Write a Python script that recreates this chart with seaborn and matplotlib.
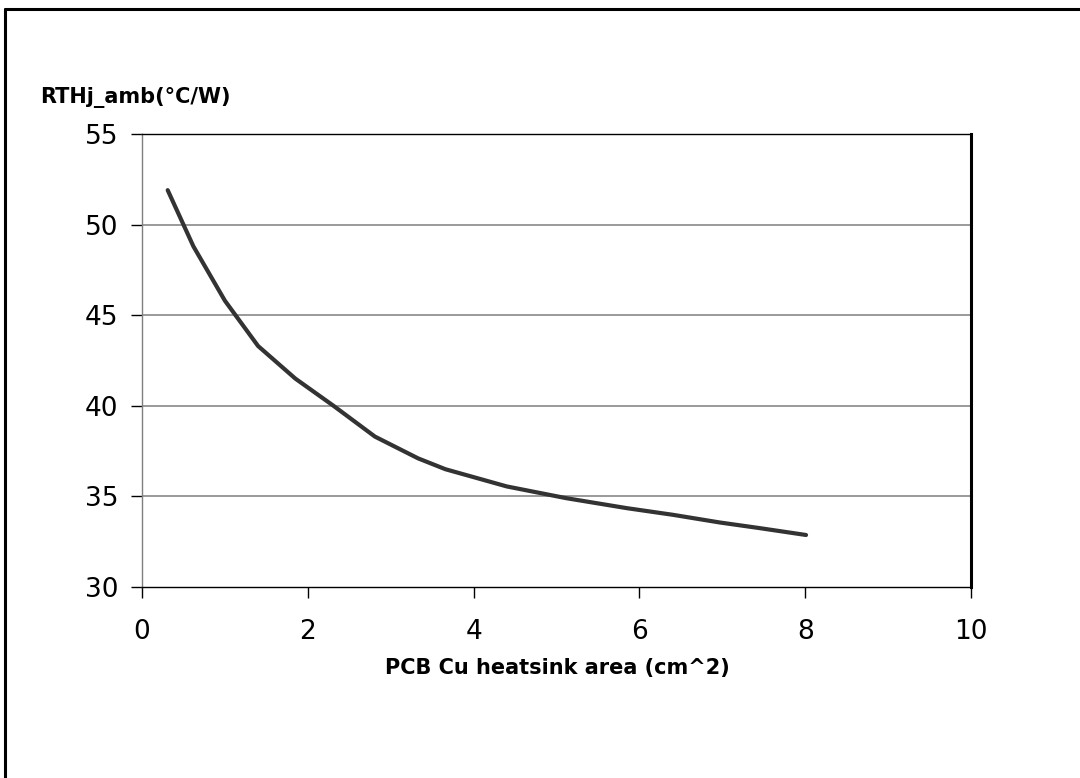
import numpy as np
import pandas as pd
import matplotlib
matplotlib.use("Agg")
import matplotlib.pyplot as plt
import seaborn as sns
from matplotlib.lines import Line2D

# dane
area_cm2 = [0.31, 0.62, 1.00, 1.40, 1.85, 2.31, 2.81, 3.33, 3.66, 4.40, 5.12, 5.85, 6.41, 6.97, 7.45, 8.01]
rth_ja = [51.9, 48.8, 45.8, 43.3, 41.5, 40.0, 38.3, 37.1, 36.5, 35.55, 34.9, 34.35, 33.98, 33.56, 33.25, 32.87]

x_ticks = [0, 2, 4, 6, 8, 10]
y_ticks = [30, 35, 40, 45, 50, 55]

sns.set_style("white")
plt.rcParams['font.family'] = ['DejaVu Sans']
plt.rcParams['text.color'] = 'black'

df = pd.DataFrame({'area': area_cm2, 'rth': rth_ja})

fig = plt.figure(figsize=(10.8, 7.78), dpi=100)
ax = fig.add_axes([142 / 1080, 1 - 587 / 778, (971 - 142) / 1080, (587 - 134) / 778])

sns.lineplot(data=df, x='area', y='rth', ax=ax, color='#333333', linewidth=3.0,
             solid_capstyle='round', solid_joinstyle='round')

ax.set_xlim(0, 10)
ax.set_ylim(30, 55)
ax.set_xticks(x_ticks)
ax.set_yticks(y_ticks)
ax.tick_params(axis='both', direction='out', length=8, width=1, color='black',
               labelsize=19, labelcolor='black', bottom=True, left=True)
ax.tick_params(axis='x', pad=15)
ax.tick_params(axis='y', pad=9)

# siatka pozioma
for y in y_ticks[1:-1]:
    ax.axhline(y, color='#7f7f7f', linewidth=1.1, zorder=0)

for side in ['left', 'top', 'bottom']:
    ax.spines[side].set_visible(True)
    ax.spines[side].set_linewidth(1.0)
ax.spines['left'].set_color('#7f7f7f')
ax.spines['top'].set_color('black')
ax.spines['bottom'].set_color('black')
ax.spines['right'].set_color('black')
ax.spines['right'].set_linewidth(2.2)

ax.set_xlabel('')
ax.set_ylabel('')

fig.text(40 / 1080, 1 - 97 / 778, 'RTHj_amb(°C/W)', fontsize=15, fontweight='bold',
         ha='left', va='center', color='black')
fig.text(557 / 1080, 1 - 668 / 778, 'PCB Cu heatsink area (cm^2)', fontsize=15,
         fontweight='bold', ha='center', va='center', color='black')

# ramka wokół wykresu (obcięta z prawej i z dołu)
fig.add_artist(Line2D([5 / 1080, 5 / 1080], [0, 1 - 9 / 778], transform=fig.transFigure,
                      color='black', linewidth=2.2))
fig.add_artist(Line2D([5 / 1080, 1], [1 - 9 / 778, 1 - 9 / 778], transform=fig.transFigure,
                      color='black', linewidth=2.2))

plt.savefig('out.png', dpi=100)
